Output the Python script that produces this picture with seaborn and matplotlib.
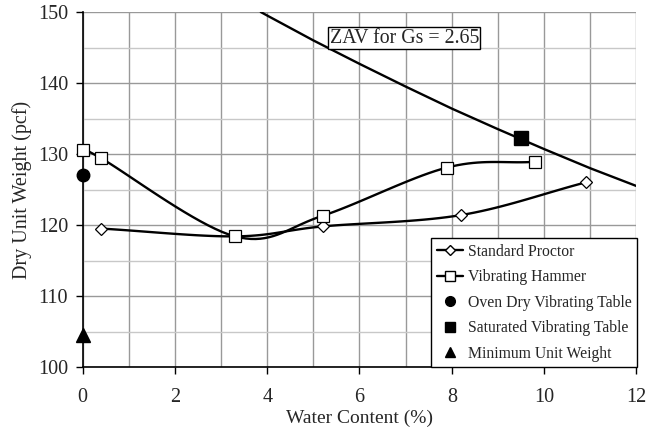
import numpy as np
import pandas as pd
import matplotlib
matplotlib.use('Agg')
import matplotlib.pyplot as plt
import seaborn as sns
from matplotlib.lines import Line2D
from matplotlib.ticker import MultipleLocator

## data
proctor_w = [0.4, 3.3, 5.2, 8.2, 10.9]
proctor_gd = [119.5, 118.4, 119.8, 121.4, 126.0]

hammer_w = [0.0, 0.4, 3.3, 5.2, 7.9, 9.8]
hammer_gd = [130.5, 129.4, 118.4, 121.3, 128.1, 128.9]

oven_w = [0.0]
oven_gd = [127.0]

sat_w = [9.5]
sat_gd = [132.2]

min_w = [0.0]
min_gd = [104.5]

zav_w = [3.86, 4, 5, 6, 7, 8, 9, 10, 11, 12]
zav_gd = [150.0, 149.5, 146.0, 142.7, 139.5, 136.4, 133.5, 130.7, 128.0, 125.5]

sns.set_style('white')
plt.rcParams['font.family'] = ['Liberation Serif', 'DejaVu Serif']


def smooth(x, y, n=20):
    # Catmull-Rom style smoothing like the spreadsheet "smoothed line"
    x = np.asarray(x, float)
    y = np.asarray(y, float)
    px = np.r_[2 * x[0] - x[1], x, 2 * x[-1] - x[-2]]
    py = np.r_[2 * y[0] - y[1], y, 2 * y[-1] - y[-2]]
    xs, ys = [], []
    for i in range(1, len(px) - 2):
        t = np.linspace(0, 1, n)
        for arr, out in ((px, xs), (py, ys)):
            p0, p1, p2, p3 = arr[i - 1], arr[i], arr[i + 1], arr[i + 2]
            out.extend(0.5 * ((2 * p1) + (-p0 + p2) * t
                              + (2 * p0 - 5 * p1 + 4 * p2 - p3) * t ** 2
                              + (-p0 + 3 * p1 - 3 * p2 + p3) * t ** 3))
    return xs, ys


fig, ax = plt.subplots(figsize=(6.46, 4.29), dpi=100)
fig.subplots_adjust(left=0.128, right=0.985, top=0.972, bottom=0.1445)

## grid
ax.xaxis.set_major_locator(MultipleLocator(2))
ax.xaxis.set_minor_locator(MultipleLocator(1))
ax.yaxis.set_major_locator(MultipleLocator(10))
ax.yaxis.set_minor_locator(MultipleLocator(5))
ax.grid(which='major', axis='both', color='#999999', linewidth=1)
ax.grid(which='minor', axis='x', color='#999999', linewidth=1)
ax.grid(which='minor', axis='y', color='#c8c8c8', linewidth=1)
ax.set_axisbelow(True)

## ZAV line
zav = pd.DataFrame({'w': zav_w, 'gd': zav_gd})
sns.lineplot(data=zav, x='w', y='gd', ax=ax, color='black', linewidth=1.7, sort=False)

## smoothed curves
sx, sy = smooth(proctor_w, proctor_gd)
ax.plot(sx, sy, color='black', linewidth=1.7, zorder=3)
hx, hy = smooth(hammer_w, hammer_gd)
ax.plot(hx, hy, color='black', linewidth=1.7, zorder=3)

## markers
ax.plot(proctor_w, proctor_gd, linestyle='none', marker='D', markersize=6.3,
        markerfacecolor='white', markeredgecolor='black', markeredgewidth=0.9, zorder=4, clip_on=False)
ax.plot(hammer_w, hammer_gd, linestyle='none', marker='s', markersize=8,
        markerfacecolor='white', markeredgecolor='black', markeredgewidth=0.9, zorder=4, clip_on=False)
ax.plot(oven_w, oven_gd, linestyle='none', marker='o', markersize=9,
        color='black', zorder=5, clip_on=False)
ax.plot(sat_w, sat_gd, linestyle='none', marker='s', markersize=9.5,
        color='black', zorder=5, clip_on=False)
ax.plot(min_w, min_gd, linestyle='none', marker='^', markersize=9.5,
        color='black', zorder=5, clip_on=False)

ax.text(5.35, 146.3, 'ZAV for Gs = 2.65', fontsize=14.3, ha='left', va='center',
        bbox=dict(boxstyle='square,pad=0.08', facecolor='white', edgecolor='black', linewidth=1))

ax.set_xlim(0, 12)
ax.set_ylim(100, 150)
ax.set_xlabel('Water Content (%)', fontsize=14, labelpad=2)
ax.set_ylabel('Dry Unit Weight (pcf)', fontsize=14.5, labelpad=4)
ax.tick_params(axis='both', which='major', labelsize=14.5, direction='out', length=5,
               width=1, color='black', left=True, bottom=True)
ax.tick_params(axis='x', which='major', pad=10)
ax.tick_params(axis='y', which='major', pad=5.5)
ax.tick_params(axis='both', which='minor', length=0)
for s in ['top', 'right']:
    ax.spines[s].set_visible(False)
for s in ['left', 'bottom']:
    ax.spines[s].set_color('black')
    ax.spines[s].set_linewidth(1.2)

## legend
handles = [
    Line2D([], [], color='black', linewidth=1.7, marker='D', markersize=5.5,
           markerfacecolor='white', markeredgecolor='black'),
    Line2D([], [], color='black', linewidth=1.7, marker='s', markersize=7,
           markerfacecolor='white', markeredgecolor='black'),
    Line2D([], [], linestyle='none', marker='o', markersize=7, color='black'),
    Line2D([], [], linestyle='none', marker='s', markersize=7, color='black'),
    Line2D([], [], linestyle='none', marker='^', markersize=7, color='black'),
]
labels = ['Standard Proctor', 'Vibrating Hammer', 'Oven Dry Vibrating Table',
          'Saturated Vibrating Table', 'Minimum Unit Weight']
leg = ax.legend(handles, labels, loc='lower right', bbox_to_anchor=(1.002, 0.0),
                fontsize=11.3, frameon=True, fancybox=False, framealpha=1,
                edgecolor='black', handlelength=1.7, handletextpad=0.3,
                borderaxespad=0, borderpad=0.35, labelspacing=0.6)
leg.get_frame().set_linewidth(1)

plt.savefig('out.png', dpi=100)
